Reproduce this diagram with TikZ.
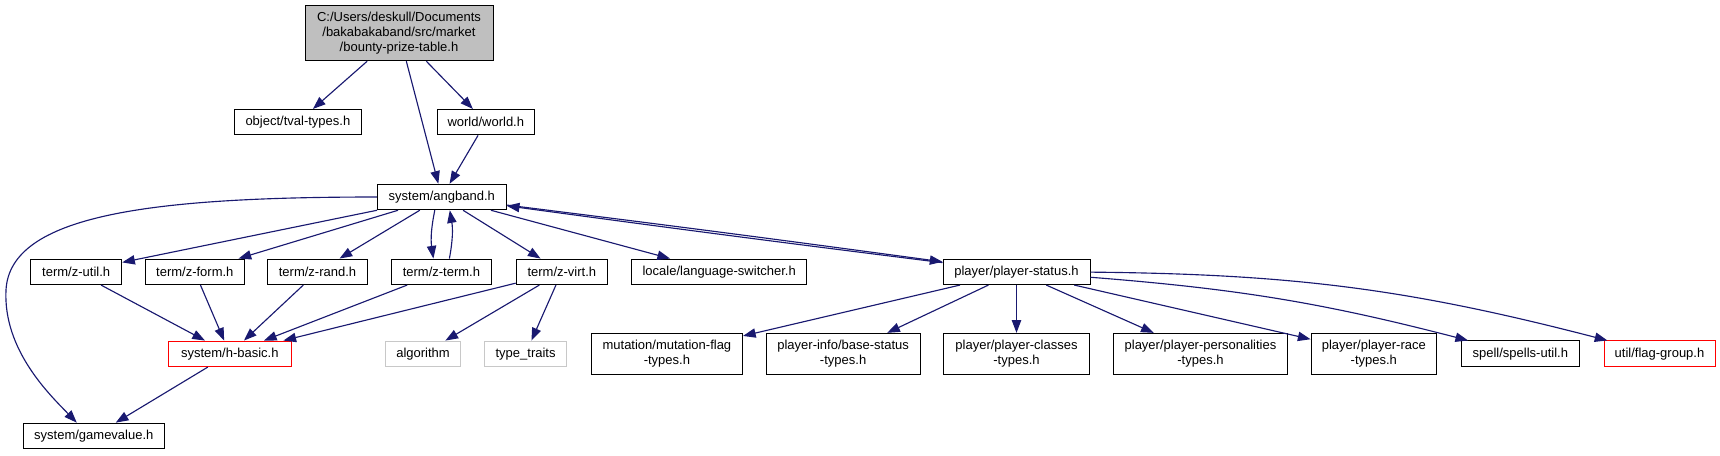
\documentclass[tikz,border=0pt]{standalone}
\usepackage{fontspec}
\setmainfont{Liberation Sans}
\usetikzlibrary{arrows.meta}

\begin{document}
\begin{tikzpicture}[
  x=0.75pt, y=-0.75pt,
  box/.style={draw=black, line width=0.75pt, inner sep=0pt,
    minimum height=25.5*0.75pt, align=center,
    font=\fontsize{9.75}{11.25}\selectfont},
  bw/.style={minimum width=#1*0.75pt},
  tall/.style={minimum height=40.7*0.75pt},
  rootbox/.style={box, fill=rootgray, minimum height=55*0.75pt},
  redbox/.style={box, draw=red},
  extbox/.style={box, draw=extgray},
  dep/.style={draw=edgeblue, line width=0.85pt,
    -{Triangle[length=9.5pt,width=7pt]}},
]

\definecolor{edgeblue}{RGB}{25,25,112}
\definecolor{rootgray}{RGB}{191,191,191}
\definecolor{extgray}{RGB}{200,200,200}

\useasboundingbox (0,0) rectangle (1720,455);

% ============================================================
% NODES
% (coordinates in px, y grows downwards)
% ============================================================
\node[rootbox, bw=188] (root) at (399,33.2)
  {C:/Users/deskull/Documents\\/bakabakaband/src/market\\/bounty-prize-table.h};

\node[box, bw=126.6] (tval)  at (297.9,122.2) {object/tval-types.h};
\node[box, bw=97.6]  (world) at (485.8,122.2) {world/world.h};

\node[box, bw=129] (angband) at (441.8,197) {system/angband.h};

% term/ row
\node[box, bw=91]    (zutil)   at (76.2,271.8)   {term/z-util.h};
\node[box, bw=98.7]  (zform)   at (194.8,271.8)  {term/z-form.h};
\node[box, bw=99.1]  (zrand)   at (317.5,271.8)  {term/z-rand.h};
\node[box, bw=99.8]  (zterm)   at (441.4,271.8)  {term/z-term.h};
\node[box, bw=91.2]  (zvirt)   at (561.8,271.8)  {term/z-virt.h};
\node[box, bw=175.3] (langsw)  at (719.2,271.8)  {locale/language-switcher.h};
\node[box, bw=147]   (pstatus) at (1016.5,271.8) {player/player-status.h};

% lower row
\node[redbox, bw=122.8] (hbasic) at (229.8,353.8) {system/h-basic.h};
\node[extbox, bw=74.6]  (algo)   at (423,353.8)   {algorithm};
\node[extbox, bw=82.3]  (traits) at (525.6,353.8) {type\_traits};

\node[box, tall, bw=151.2] (mutflag)  at (666.9,353.7)  {mutation/mutation-flag\\-types.h};
\node[box, tall, bw=153.8] (basestat) at (843.1,353.7)  {player-info/base-status\\-types.h};
\node[box, tall, bw=145.4] (pclasses) at (1016.5,353.7) {player/player-classes\\-types.h};
\node[box, tall, bw=173.5] (ppers)    at (1200.5,353.7) {player/player-personalities\\-types.h};
\node[box, tall, bw=125.5] (prace)    at (1373.8,353.7) {player/player-race\\-types.h};
\node[box, bw=118.6]       (spells)   at (1520.3,353.7) {spell/spells-util.h};
\node[redbox, bw=111]      (flaggrp)  at (1659.5,353.7) {util/flag-group.h};

\node[box, bw=141.5] (gamevalue) at (93.8,435.9) {system/gamevalue.h};

% ============================================================
% EDGES
% ============================================================
\draw[dep] (root) -- (tval);
\draw[dep] (root) -- (angband);
\draw[dep] (root) -- (world);
\draw[dep] (world) -- (angband);

% angband -> gamevalue, long way round on the left
\coordinate (gvbend) at (6,290);
\draw[dep] (angband.west) .. controls (150,197) and (10,215) .. (gvbend)
  .. controls (3,350) and (50,395) .. ([shift={(-17,0)}]gamevalue.north);

\draw[dep] (angband) -- (zutil);
\draw[dep] (angband) -- (zform);
\draw[dep] (angband) -- (zrand);
\draw[dep] ([shift={(-7,0)}]angband.south) to[bend right=10] ([shift={(-8,0)}]zterm.north);
\draw[dep] ([shift={(8,0)}]zterm.north) to[bend right=10] ([shift={(8,0)}]angband.south);
\draw[dep] (angband) -- (zvirt);
\draw[dep] (angband) -- (langsw);
\draw[dep] (angband) to[bend left=0.3] (pstatus);
\draw[dep] (pstatus) to[bend left=0.3] (angband);

\draw[dep] (zutil) -- (hbasic);
\draw[dep] (zform) -- (hbasic);
\draw[dep] (zrand) -- (hbasic);
\draw[dep] (zterm) -- (hbasic);
\draw[dep] (zvirt) -- (hbasic);
\draw[dep] (zvirt) -- (algo);
\draw[dep] (zvirt) -- (traits);
\draw[dep] (hbasic) -- (gamevalue);

\draw[dep] (pstatus) -- (mutflag);
\draw[dep] (pstatus) -- (basestat);
\draw[dep] (pstatus) -- (pclasses);
\draw[dep] (pstatus) -- (ppers);
\draw[dep] (pstatus) -- (prace);
\draw[dep] (pstatus) to[bend left=5] (spells);
\draw[dep] (pstatus) to[bend left=7] (flaggrp);

\end{tikzpicture}
\end{document}
